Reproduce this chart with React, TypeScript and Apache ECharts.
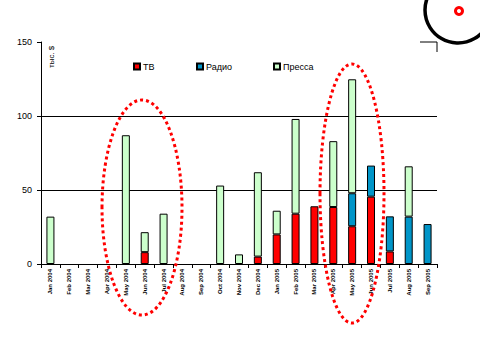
import React, { useEffect, useRef } from "react";
import * as echarts from "echarts";

const categories = [
  "Jan 2004", "Feb 2004", "Mar 2004", "Apr 2004", "May 2004", "Jun 2004", "Jul 2004",
  "Aug 2004", "Sep 2004", "Oct 2004", "Nov 2004", "Dec 2004", "Jan 2005", "Feb 2005",
  "Mar 2005", "Apr 2005", "May 2005", "Jun 2005", "Jul 2005", "Aug 2005", "Sep 2005",
];
const tv = [null, null, null, null, null, 8, null, null, null, null, null, 5, 20, 34, 39, 38.5, 25.5, 45.5, 8.5, null, null];
const radio = [null, null, null, null, null, null, null, null, null, null, null, null, null, null, null, null, 22.3, 21, 23.7, 32, 27];
const press = [32, null, null, null, 87, 13.5, 34, null, null, 53, 6.5, 57, 16, 64, null, 44.5, 77, null, null, 34, null];
const yTicks = [0, 50, 100, 150];

const FONT = "'Liberation Sans', Arial, sans-serif";

export default function App() {
  const ref = useRef<HTMLDivElement>(null);
  useEffect(() => {
    if (!ref.current) return;
    const chart = echarts.init(ref.current, null, { renderer: "svg" });
    const barBase = { type: "bar", stack: "a", barWidth: 8, itemStyle: { borderColor: "#000", borderWidth: 1 } };
    const dotted = { stroke: "#ff0000", fill: "none", lineWidth: 3, lineDash: [3, 3] };
    const legendText = { fontSize: 9, color: "#000", fontFamily: FONT, padding: [0, 0, 0, -2] };
    chart.setOption({
      animation: false,
      backgroundColor: "#fff",
      textStyle: { fontFamily: FONT },
      grid: { left: 41, top: 42, right: 43, bottom: 96 },
      legend: [
        { left: 128, top: 57, itemWidth: 6, itemHeight: 6, data: ["ТВ"], textStyle: legendText, icon: "rect" },
        { left: 191, top: 57, itemWidth: 6, itemHeight: 6, data: ["Радио"], textStyle: legendText, icon: "rect" },
        { left: 268, top: 57, itemWidth: 6, itemHeight: 6, data: ["Пресса"], textStyle: legendText, icon: "rect" },
      ],
      xAxis: {
        type: "category",
        data: categories,
        axisLine: { lineStyle: { color: "#000", width: 1 } },
        axisTick: { show: true, interval: 0, length: 4, lineStyle: { color: "#000" } },
        axisLabel: { interval: 0, rotate: 90, fontSize: 6, fontWeight: "bold", color: "#000", fontFamily: FONT, margin: 5 },
      },
      yAxis: {
        type: "value",
        min: yTicks[0],
        max: yTicks[yTicks.length - 1],
        interval: 50,
        axisLine: { show: true, lineStyle: { color: "#000", width: 1 } },
        axisTick: { show: true, length: 4, lineStyle: { color: "#000" } },
        axisLabel: { fontSize: 9, color: "#000", fontFamily: FONT, margin: 9 },
        splitLine: { show: true, showMaxLine: false, lineStyle: { color: "#000", width: 1 } },
      },
      series: [
        { ...barBase, name: "ТВ", data: tv, itemStyle: { ...barBase.itemStyle, color: "#ff0000" } },
        { ...barBase, name: "Радио", data: radio, itemStyle: { ...barBase.itemStyle, color: "#0095c8" } },
        { ...barBase, name: "Пресса", data: press, itemStyle: { ...barBase.itemStyle, color: "#ccffcc" } },
      ],
      graphic: [
        { type: "text", x: 47, y: 68, rotation: Math.PI / 2, z: 100, style: { text: "тыс. $", fill: "#000", font: `8px ${FONT}` } },
        { type: "ellipse", z: 100, shape: { cx: 142, cy: 207.5, rx: 40, ry: 107.5 }, style: dotted },
        { type: "ellipse", z: 100, shape: { cx: 352, cy: 193.5, rx: 32, ry: 129.5 }, style: dotted },
        { type: "circle", z: 100, shape: { cx: 458, cy: 10, r: 33 }, style: { stroke: "#000", fill: "none", lineWidth: 3.5 } },
        { type: "ring", z: 100, shape: { cx: 459, cy: 11, r: 5, r0: 2 }, style: { fill: "#ff0000" } },
        { type: "polyline", z: 100, shape: { points: [[420, 42], [437, 42], [437, 52]] }, style: { stroke: "#000", lineWidth: 1, fill: "none" } },
      ],
    });
    return () => chart.dispose();
  }, []);
  return <div ref={ref} style={{ position: "fixed", left: 0, top: 0, width: 480, height: 360 }} />;
}
